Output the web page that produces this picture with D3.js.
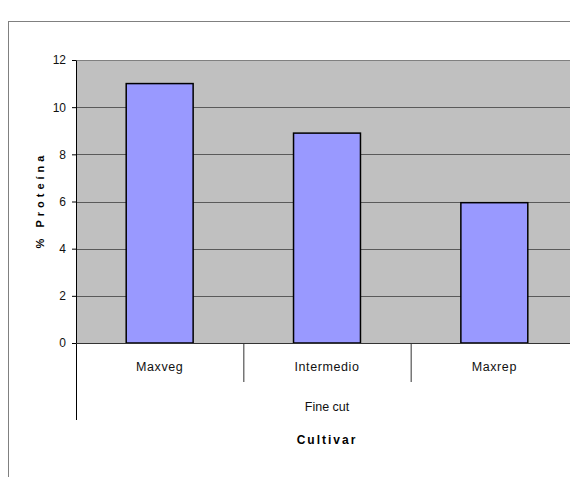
<!DOCTYPE html>
<html>
<head>
<meta charset="utf-8">
<script src="https://cdn.jsdelivr.net/npm/d3@7"></script>
<style>
  body { margin: 0; background: #fff; }
  text { font-family: "Liberation Sans Narrow", "Liberation Sans", Arial, sans-serif; }
</style>
</head>
<body>
<div id="chart"></div>
<script>
// Data
const cultivars = ["Maxveg", "Intermedio", "Maxrep"];
const protein = [11, 8.9, 5.95];
const yTicks = [0, 2, 4, 6, 8, 10, 12];
const groupLabel = "Fine cut";
const xTitle = "Cultivar";
const yTitle = "% Proteína";

const W = 570, H = 477;
const plot = { left: 76, top: 60, right: 578, bottom: 343 };

const svg = d3.select("#chart").append("svg").attr("width", W).attr("height", H);

// Outer chart frame
svg.append("rect")
  .attr("x", 8.5).attr("y", 21.5)
  .attr("width", 600).attr("height", 500)
  .attr("fill", "white").attr("stroke", "#808080").attr("stroke-width", 1);

// Scales
const xScale = d3.scaleBand()
  .domain(cultivars)
  .range([plot.left, plot.right])
  .paddingInner(0.6)
  .paddingOuter(0.3);
const yScale = d3.scaleLinear().domain([0, 12]).range([plot.bottom, plot.top]);

// Plot background
svg.append("rect")
  .attr("x", plot.left).attr("y", plot.top)
  .attr("width", plot.right - plot.left).attr("height", plot.bottom - plot.top)
  .attr("fill", "#c0c0c0");

// Gridlines
svg.append("g")
  .selectAll("line")
  .data(yTicks.filter((d) => d > 0))
  .enter()
  .append("line")
  .attr("x1", plot.left).attr("x2", plot.right)
  .attr("y1", (d) => Math.round(yScale(d)) + 0.5)
  .attr("y2", (d) => Math.round(yScale(d)) + 0.5)
  .attr("stroke", (d) => (d === 12 ? "#808080" : "#5a5a5a"))
  .attr("stroke-width", 1.2);

// Bars
svg.append("g")
  .selectAll(".bar")
  .data(cultivars.map((c, i) => ({ name: c, value: protein[i] })))
  .enter()
  .append("rect")
  .attr("class", "bar")
  .attr("x", (d) => xScale(d.name))
  .attr("y", (d) => yScale(d.value))
  .attr("width", xScale.bandwidth())
  .attr("height", (d) => yScale(0) - yScale(d.value))
  .attr("fill", "#9999ff")
  .attr("stroke", "black")
  .attr("stroke-width", 1.5);

// Y axis
const yAxis = svg.append("g")
  .attr("transform", `translate(${plot.left},0)`)
  .call(d3.axisLeft(yScale).tickValues(yTicks).tickSize(4).tickPadding(6).tickSizeOuter(0));
yAxis.select(".domain").attr("stroke", "black");
yAxis.selectAll("text").attr("font-size", 12).attr("fill", "#111")
  .style("font-family", "'Liberation Sans Narrow', 'Liberation Sans', Arial, sans-serif");

// Axis line extended down through category area
svg.append("line")
  .attr("x1", plot.left + 0.5).attr("x2", plot.left + 0.5)
  .attr("y1", plot.bottom).attr("y2", 420)
  .attr("stroke", "black");

// Baseline
svg.append("line")
  .attr("x1", plot.left).attr("x2", plot.right)
  .attr("y1", plot.bottom + 0.5).attr("y2", plot.bottom + 0.5)
  .attr("stroke", "#333").attr("stroke-width", 1.2);

// Category separators
const step = xScale.step();
svg.append("g")
  .selectAll("line")
  .data(cultivars.slice(1))
  .enter()
  .append("line")
  .attr("x1", (d) => xScale(d) - step * 0.3 + 0.5)
  .attr("x2", (d) => xScale(d) - step * 0.3 + 0.5)
  .attr("y1", plot.bottom).attr("y2", 382)
  .attr("stroke", "#333");

// Category labels
svg.append("g")
  .selectAll("text")
  .data(cultivars)
  .enter()
  .append("text")
  .attr("x", (d) => xScale(d) + xScale.bandwidth() / 2)
  .attr("y", 371)
  .attr("text-anchor", "middle")
  .attr("font-size", 12.5)
  .attr("letter-spacing", 0.6)
  .attr("fill", "#111")
  .text((d) => d);

// Group label
svg.append("text")
  .attr("x", xScale(cultivars[1]) + xScale.bandwidth() / 2)
  .attr("y", 411)
  .attr("text-anchor", "middle")
  .attr("font-size", 12.5)
  .attr("fill", "#111")
  .text(groupLabel);

// X title
svg.append("text")
  .attr("x", xScale(cultivars[1]) + xScale.bandwidth() / 2)
  .attr("y", 444)
  .attr("text-anchor", "middle")
  .attr("font-size", 12)
  .attr("font-weight", "bold")
  .attr("letter-spacing", 2)
  .attr("fill", "#000")
  .text(xTitle);

// Y title
svg.append("text")
  .attr("transform", "translate(44,200) rotate(-90)")
  .attr("text-anchor", "middle")
  .attr("font-size", 11)
  .attr("font-weight", "bold")
  .attr("letter-spacing", 4)
  .attr("fill", "#000")
  .text(yTitle);
</script>
</body>
</html>
